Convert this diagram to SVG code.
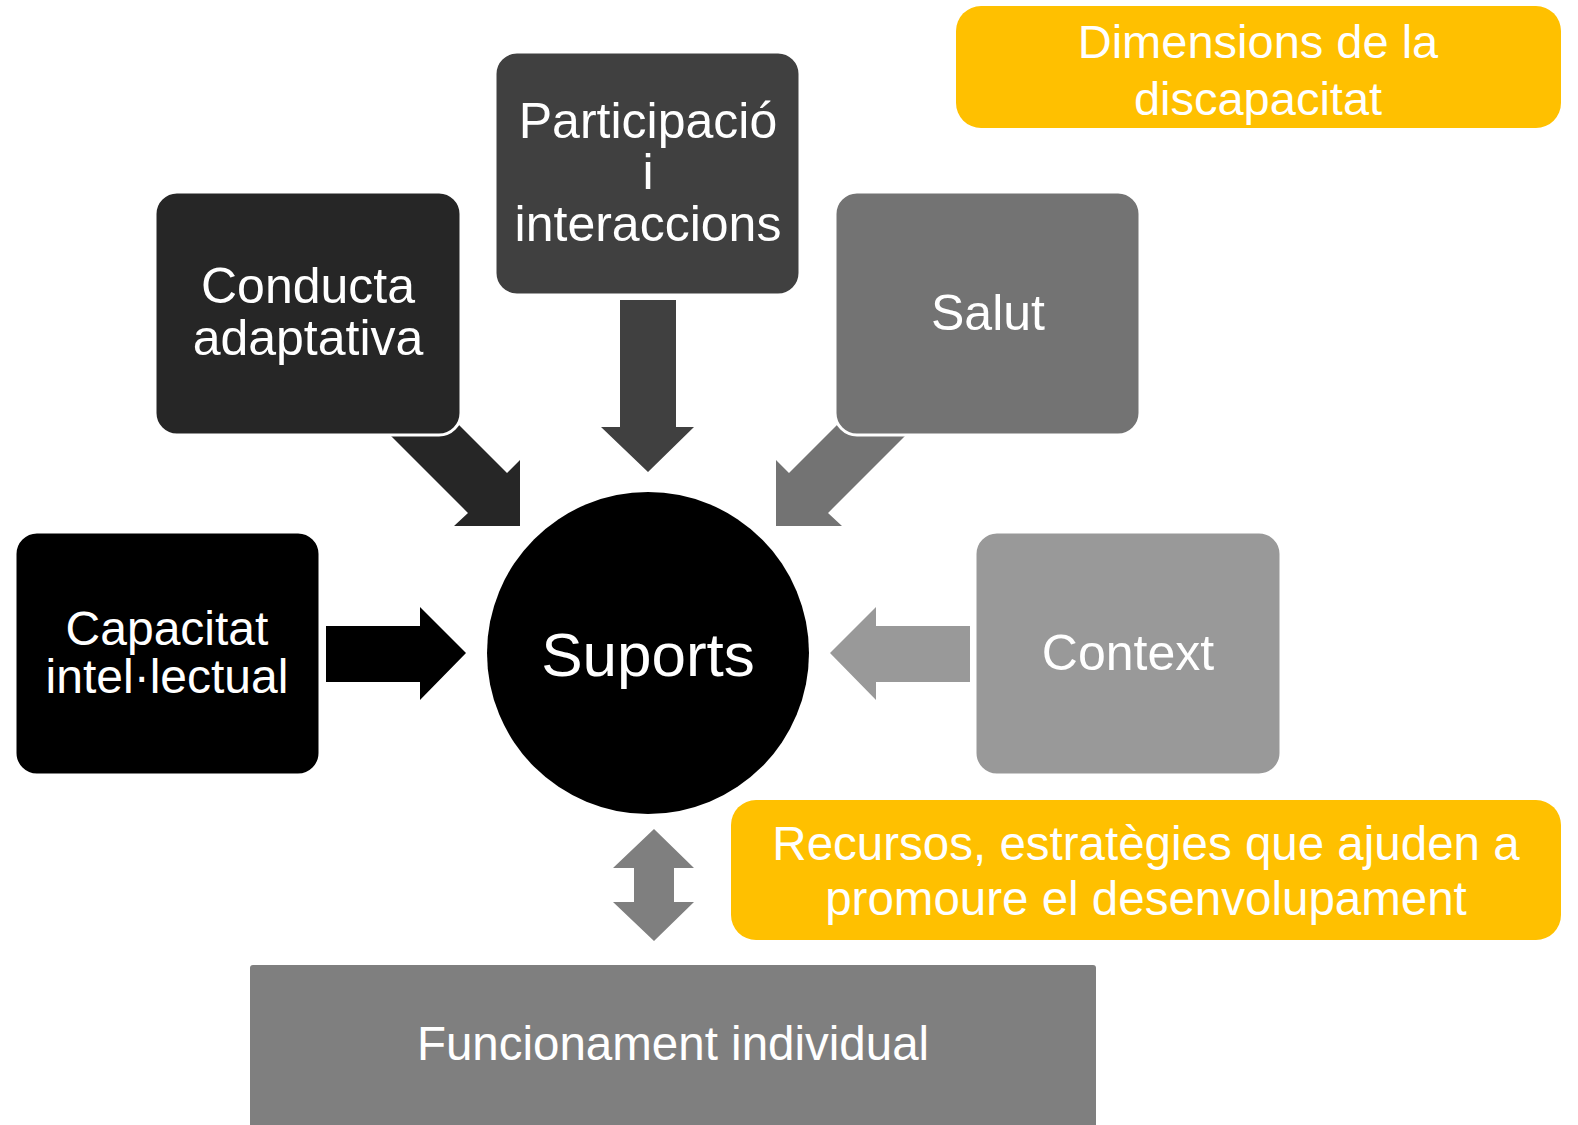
<svg xmlns="http://www.w3.org/2000/svg" width="1578" height="1125" viewBox="0 0 1578 1125">
<style>
text{font-family:"Liberation Sans",Arial,sans-serif;fill:#fff;text-anchor:middle}
.box{stroke:#fff;stroke-width:3}
</style>
<rect width="1578" height="1125" fill="#fff"/>
<g id="connectors">
<polygon points="326,626 420,626 420,607 466,653 420,700 420,682 326,682" fill="#000"/>
<polygon points="387.5,432.5 468,513 454,526 520,526 520,460 507,473 427,393" fill="#262626"/>
<polygon points="620,300 676,300 676,427 694,427 648,472 601,427 620,427" fill="#404040"/>
<polygon points="908.5,432.5 828,513 842,526 776,526 776,460 789,473 869,393" fill="#737373"/>
<polygon points="970,626 876,626 876,607 830,653 876,700 876,682 970,682" fill="#999"/>
<polygon points="654,829 694,868 674,868 674,902 694,902 654,941 613,902 634,902 634,868 613,868" fill="#7f7f7f"/>
</g>
<g id="capacitat">
<rect class="box" x="15" y="532" width="305" height="243" rx="22" fill="#000"/>
<text x="167" y="645" font-size="48">Capacitat</text>
<text x="167" y="693" font-size="48">intel·lectual</text>
</g>
<g id="conducta">
<rect class="box" x="155" y="192" width="306" height="243" rx="22" fill="#262626"/>
<text x="308" y="303" font-size="50">Conducta</text>
<text x="308" y="355" font-size="50">adaptativa</text>
</g>
<g id="participacio">
<rect class="box" x="495" y="52" width="305" height="243" rx="22" fill="#404040"/>
<text x="648" y="138" font-size="50">Participació</text>
<text x="648" y="189" font-size="50">i</text>
<text x="648" y="241" font-size="50">interaccions</text>
</g>
<g id="salut">
<rect class="box" x="835" y="192" width="305" height="243" rx="22" fill="#737373"/>
<text x="988" y="330" font-size="50">Salut</text>
</g>
<g id="context">
<rect class="box" x="975" y="532" width="306" height="243" rx="22" fill="#999"/>
<text x="1128" y="670" font-size="50">Context</text>
</g>
<g id="suports">
<circle cx="648" cy="653" r="161" fill="#000"/>
<text x="648" y="676" font-size="62">Suports</text>
</g>
<g id="dimensions">
<rect x="956" y="6" width="605" height="122" rx="25" fill="#FFC000"/>
<text x="1258" y="58" font-size="47">Dimensions de la</text>
<text x="1258" y="115" font-size="47">discapacitat</text>
</g>
<g id="recursos">
<rect x="731" y="800" width="830" height="140" rx="25" fill="#FFC000"/>
<text x="1146" y="860" font-size="47.5">Recursos, estratègies que ajuden a</text>
<text x="1146" y="915" font-size="47.5">promoure el desenvolupament</text>
</g>
<g id="funcionament">
<rect x="250" y="965" width="846" height="180" rx="3" fill="#7f7f7f"/>
<text x="673" y="1060" font-size="47.5">Funcionament individual</text>
</g>
</svg>
